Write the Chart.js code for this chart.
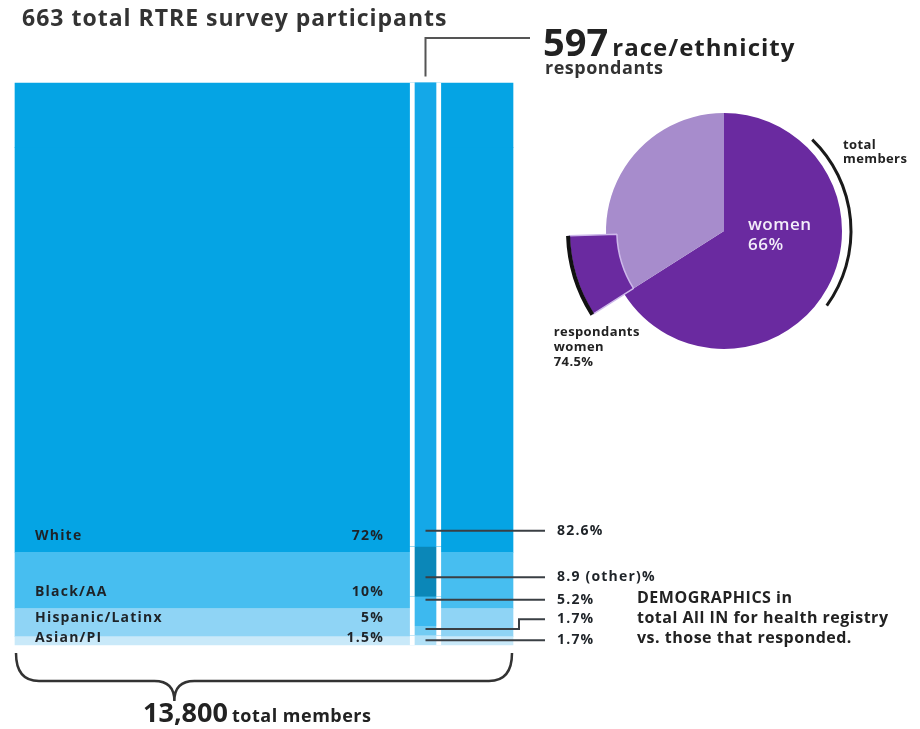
<!DOCTYPE html>
<html>
<head>
<meta charset="utf-8">
<script src="https://cdn.jsdelivr.net/npm/chart.js@4.4.1/dist/chart.umd.min.js"></script>
<style>
html,body{margin:0;padding:0;background:#fff;}
#wrap{position:relative;width:920px;height:729px;overflow:hidden;font-family:"Open Sans",Lato,sans-serif;color:#2b2b2b;}
#wrap canvas{position:absolute;}
.t{position:absolute;white-space:nowrap;font-weight:700;line-height:1;}
</style>
</head>
<body>
<div id="wrap">
  <canvas id="bars" width="920" height="729" style="left:0;top:0"></canvas>
  <canvas id="pieMain" width="400" height="340" style="left:524px;top:61px"></canvas>
  <canvas id="pieResp" width="400" height="340" style="left:524px;top:61px"></canvas>
  <div class="t" id="title" style="left:22px;top:6px;font-size:23px;letter-spacing:1px;color:#333"></div>
  <div class="t" id="head597" style="left:543px;top:22px;color:#222"></div>
  <div class="t" id="headSub" style="left:545px;top:58px;font-size:18px;letter-spacing:0.5px;color:#333"></div>
  <div class="t" id="total" style="left:143px;top:698px;color:#222"></div>
  <div class="t" id="demo" style="left:637px;top:587px;font-size:16px;line-height:20px;letter-spacing:0.5px;color:#222">DEMOGRAPHICS in<br>total All IN for health registry<br>vs. those that responded.</div>
</div>
<script>
// ---------------- DATA ----------------
const surveyParticipants = 663;
const raceRespondents = 597;
const totalMembers = 13800;

const memberGroups = ['White', 'Black/AA', 'Hispanic/Latinx', 'Asian/PI'];
const memberPct = [72, 10, 5, 1.5];

const respondentGroups = ['White', 'other', 'Black/AA', 'Hispanic/Latinx', 'Asian/PI'];
const respondentPct = [82.6, 8.9, 5.2, 1.7, 1.7];

const genderGroups = ['women', 'men'];
const memberWomenPct = 66;
const respondentWomenPct = 74.5;

// ---------------- STYLE / LAYOUT ----------------
const memberColors = {'White':'#05a4e4','Black/AA':'#47bef0','Hispanic/Latinx':'#8fd4f5','Asian/PI':'#c9e9f9','unreported':'#05a4e4'};
const respondentColors = {'White':'#14a8e8','other':'#0b87b8','Black/AA':'#3db9ef','Hispanic/Latinx':'#73ccf3','Asian/PI':'#b2e1f7'};
const LAYOUT = {membersX: 264, membersWidth: 498, respondentsX: 425.5, respondentsWidth: 31, gutter: 5,
                headerLineX: 530, headerLineY: 38};
const PURPLE_DARK = '#6a2aa0', PURPLE_LIGHT = '#a78ccc', PURPLE_EDGE = '#cdb8ea';
const FONT = '"Open Sans", Lato, sans-serif';

// ---------------- TEXT ----------------
document.getElementById('title').textContent = surveyParticipants + ' total RTRE survey participants';
document.getElementById('head597').innerHTML = '<span style="font-size:38px">' + raceRespondents + '</span> <span style="font-size:24px;letter-spacing:1px">race/ethnicity</span>';
document.getElementById('headSub').textContent = 'respondants';
document.getElementById('total').innerHTML = '<span style="font-size:27px">' + totalMembers.toLocaleString('en-US') + '</span> <span style="font-size:18px;letter-spacing:0.5px">total members</span>';

// ---------------- BAR CHART ----------------
const datasets = [];
const memberIdx = new Array(memberGroups.length);
for (let i = memberGroups.length - 1; i >= 0; i--) {
  memberIdx[i] = datasets.length;
  datasets.push({label: memberGroups[i], stack: 'members', data: [{x: LAYOUT.membersX, y: memberPct[i]}],
    backgroundColor: memberColors[memberGroups[i]], barThickness: LAYOUT.membersWidth, order: 2, grouped: false, clip: false, borderWidth: 0});
}
const unreported = Math.round((100 - memberPct.reduce((a, b) => a + b, 0)) * 10) / 10;
datasets.push({label: 'unreported', stack: 'members', data: [{x: LAYOUT.membersX, y: unreported}],
  backgroundColor: memberColors.unreported, barThickness: LAYOUT.membersWidth, order: 2, grouped: false, clip: false, borderWidth: 0});
const respIdx = new Array(respondentGroups.length);
for (let i = respondentGroups.length - 1; i >= 0; i--) {
  respIdx[i] = datasets.length;
  datasets.push({label: respondentGroups[i], stack: 'respondents', data: [{x: LAYOUT.respondentsX, y: respondentPct[i]}],
    backgroundColor: respondentColors[respondentGroups[i]], barThickness: LAYOUT.respondentsWidth, order: 1, grouped: false, clip: false,
    borderColor: '#ffffff', borderWidth: {left: LAYOUT.gutter, right: LAYOUT.gutter, top: 0, bottom: 0}, borderSkipped: false});
}

function elOf(chart, i) { return chart.getDatasetMeta(i).data[0]; }

const barAnnotations = {
  id: 'barAnnotations',
  afterDatasetsDraw(chart) {
    const ctx = chart.ctx;
    ctx.save();
    const blk = elOf(chart, memberIdx[0]);
    const blockLeft = blk.x - blk.width / 2, blockRight = blk.x + blk.width / 2;
    const respTop = elOf(chart, respIdx[0]);
    const gutterLeft = respTop.x - respTop.width / 2;

    // member labels
    const n = memberGroups.length;
    const bottom = elOf(chart, memberIdx[n - 1]).base;
    const mys = memberGroups.map((g, i) => { const e = elOf(chart, memberIdx[i]); const h = e.base - e.y; return e.base - Math.min(h / 2, 16); });
    for (let i = n - 1; i >= 0; i--) {
      const lim = (i === n - 1) ? bottom - 7 : mys[i + 1] - 20;
      mys[i] = Math.min(mys[i], lim);
    }
    ctx.font = 'bold 14px ' + FONT;
    ctx.letterSpacing = '1.2px';
    ctx.fillStyle = '#1e2328';
    ctx.textBaseline = 'middle';
    memberGroups.forEach((g, i) => {
      ctx.textAlign = 'left';
      ctx.fillText(g, blockLeft + 20, mys[i]);
      ctx.textAlign = 'right';
      ctx.fillText(memberPct[i] + '%', gutterLeft - 26, mys[i]);
    });

    // respondent leader lines + labels
    const m = respondentGroups.length;
    const segs = respondentGroups.map((g, i) => elOf(chart, respIdx[i]));
    const rys = segs.map(e => e.base - Math.min((e.base - e.y) / 2, 16));
    for (let i = m - 2; i >= 0; i--) rys[i] = Math.min(rys[i], rys[i + 1] - 21);
    const anchors = segs.map((e, i) => Math.max(e.y + 3, Math.min(e.base - 3, rys[i])));
    anchors.forEach((a, i) => { if (Math.abs(a - rys[i]) < 5) rys[i] = a; });
    const elbowX = blockRight + 6, lineEnd = blockRight + 32, textX = blockRight + 44;
    ctx.strokeStyle = '#3a3f44';
    ctx.lineWidth = 2;
    respondentGroups.forEach((g, i) => {
      const e = segs[i];
      const a = anchors[i], ly = rys[i];
      ctx.beginPath();
      ctx.moveTo(e.x, a);
      if (Math.abs(a - ly) < 0.5) ctx.lineTo(lineEnd, ly);
      else { ctx.lineTo(elbowX, a); ctx.lineTo(elbowX, ly); ctx.lineTo(lineEnd, ly); }
      ctx.stroke();
      ctx.textAlign = 'left';
      ctx.fillStyle = '#1e2328';
      const txt = g === 'other' ? respondentPct[i] + ' (other)%' : respondentPct[i] + '%';
      ctx.fillText(txt, textX, ly);
    });
    ctx.letterSpacing = '0px';

    // header bracket from respondents bar top
    ctx.strokeStyle = '#555';
    ctx.beginPath();
    ctx.moveTo(respTop.x, respTop.y - 6);
    ctx.lineTo(respTop.x, LAYOUT.headerLineY);
    ctx.lineTo(LAYOUT.headerLineX, LAYOUT.headerLineY);
    ctx.stroke();

    // curly brace under members block
    const by = bottom + 8, bh = 28;
    const tipX = blockLeft + 0.32 * (blockRight - blockLeft);
    ctx.strokeStyle = '#333';
    ctx.lineWidth = 2.5;
    ctx.beginPath();
    ctx.moveTo(blockLeft + 1, by);
    ctx.quadraticCurveTo(blockLeft + 1, by + bh, blockLeft + 24, by + bh);
    ctx.lineTo(tipX - 20, by + bh);
    ctx.quadraticCurveTo(tipX, by + bh, tipX, by + bh + 20);
    ctx.quadraticCurveTo(tipX, by + bh, tipX + 20, by + bh);
    ctx.lineTo(blockRight - 24, by + bh);
    ctx.quadraticCurveTo(blockRight - 1, by + bh, blockRight - 1, by);
    ctx.stroke();
    ctx.restore();
  }
};

new Chart(document.getElementById('bars'), {
  type: 'bar',
  data: {datasets},
  options: {
    responsive: false, animation: false, events: [],
    layout: {padding: {top: 83, bottom: 84, left: 0, right: 0}},
    scales: {
      x: {type: 'linear', min: 0, max: 920, offset: false, display: false},
      y: {type: 'linear', min: 0, max: 100, stacked: true, display: false}
    },
    plugins: {legend: {display: false}, tooltip: {enabled: false}}
  },
  plugins: [barAnnotations]
});

// ---------------- PIE: members ----------------
const toRad = d => (d - 90) * Math.PI / 180;
const pieMainAnn = {
  id: 'pieMainAnn',
  afterDatasetsDraw(chart) {
    const ctx = chart.ctx;
    const arc = chart.getDatasetMeta(0).data[0];
    const cx = arc.x, cy = arc.y, r = arc.outerRadius;
    ctx.save();
    ctx.fillStyle = '#f3eefa';
    ctx.font = '600 17px ' + FONT;
    ctx.letterSpacing = '0.5px';
    ctx.textBaseline = 'middle';
    ctx.textAlign = 'left';
    ctx.fillText(genderGroups[0], cx + 24, cy - 6);
    ctx.fillText(memberWomenPct + '%', cx + 24, cy + 14);
    // "total members" arc
    ctx.strokeStyle = '#1a1a1a';
    ctx.lineWidth = 3;
    ctx.beginPath();
    ctx.arc(cx, cy, r + 9, toRad(44), toRad(126));
    ctx.stroke();
    ctx.fillStyle = '#222';
    ctx.font = 'bold 13px ' + FONT;
    ctx.letterSpacing = '0.4px';
    ctx.fillText('total', cx + r + 1, cy - 86);
    ctx.fillText('members', cx + r + 1, cy - 72);
    ctx.restore();
  }
};
new Chart(document.getElementById('pieMain'), {
  type: 'pie',
  data: {labels: genderGroups, datasets: [{data: [memberWomenPct, 100 - memberWomenPct], backgroundColor: [PURPLE_DARK, PURPLE_LIGHT], borderWidth: 0}]},
  options: {responsive: false, animation: false, events: [], radius: 118,
    plugins: {legend: {display: false}, tooltip: {enabled: false}}},
  plugins: [pieMainAnn]
});

// ---------------- PIE: respondents wedge ----------------
const pieRespAnn = {
  id: 'pieRespAnn',
  afterDatasetsDraw(chart) {
    const ctx = chart.ctx;
    const arc = chart.getDatasetMeta(0).data[1];
    const cx = arc.x, cy = arc.y, r = arc.outerRadius;
    ctx.save();
    ctx.strokeStyle = '#111';
    ctx.lineWidth = 4;
    ctx.beginPath();
    ctx.arc(cx, cy, r + 1, arc.startAngle, arc.endAngle);
    ctx.stroke();
    const px = cx + (r + 4) * Math.cos(arc.startAngle), py = cy + (r + 4) * Math.sin(arc.startAngle);
    ctx.fillStyle = '#222';
    ctx.font = 'bold 13px ' + FONT;
    ctx.letterSpacing = '0.4px';
    ctx.textBaseline = 'top';
    ctx.textAlign = 'left';
    ctx.fillText('respondants', px - 36, py + 10);
    ctx.fillText(genderGroups[0], px - 36, py + 25);
    ctx.fillText(respondentWomenPct + '%', px - 36, py + 40);
    ctx.restore();
  }
};
new Chart(document.getElementById('pieResp'), {
  type: 'doughnut',
  data: {labels: ['members women', 'respondent women', 'rest'],
    datasets: [{data: [memberWomenPct, respondentWomenPct - memberWomenPct, 100 - respondentWomenPct],
      backgroundColor: ['rgba(0,0,0,0)', PURPLE_DARK, 'rgba(0,0,0,0)'],
      borderColor: ['rgba(0,0,0,0)', PURPLE_EDGE, 'rgba(0,0,0,0)'], borderWidth: [0, 1.5, 0]}]},
  options: {responsive: false, animation: false, events: [], radius: 155, cutout: 117,
    plugins: {legend: {display: false}, tooltip: {enabled: false}}},
  plugins: [pieRespAnn]
});
</script>
</body>
</html>
